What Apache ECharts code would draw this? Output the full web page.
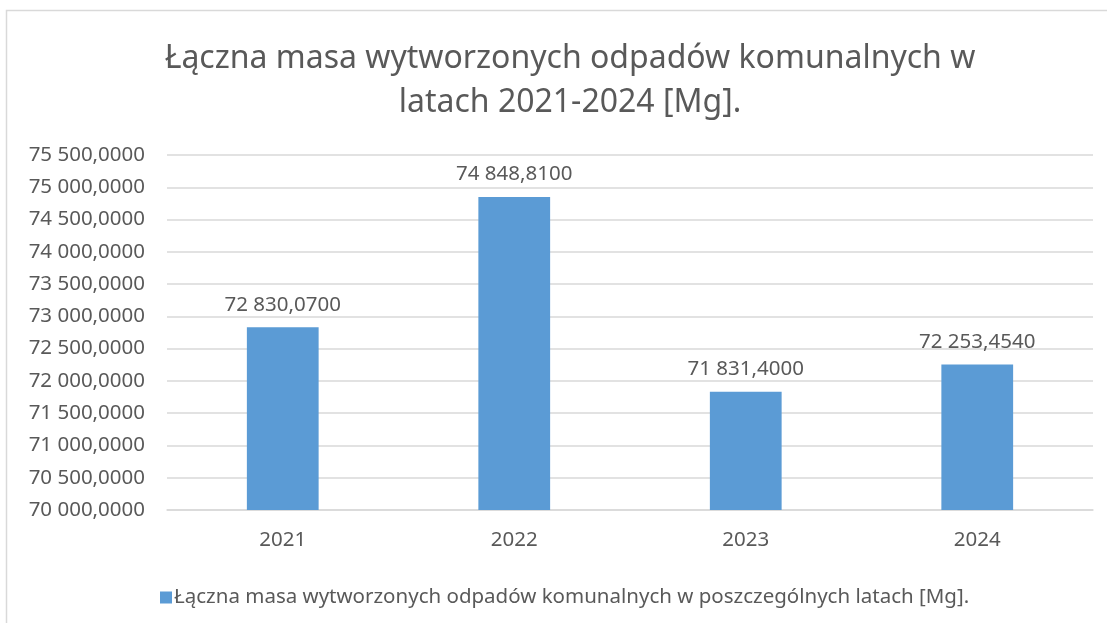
<!DOCTYPE html>
<html>
<head>
<meta charset="utf-8">
<script src="https://cdn.jsdelivr.net/npm/echarts@6/dist/echarts.min.js"></script>
<style>
  html, body { margin: 0; padding: 0; background: #fff; }
  #chart { width: 1107px; height: 623px; }
</style>
</head>
<body>
<div id="chart"></div>
<script>
var years = ["2021", "2022", "2023", "2024"];
var masses = [72830.07, 74848.81, 71831.4, 72253.454];
var seriesName = "Łączna masa wytworzonych odpadów komunalnych w poszczególnych latach [Mg].";
var titleText = "Łączna masa wytworzonych odpadów komunalnych w\nlatach 2021-2024 [Mg].";

var font = "Noto Sans";
var textColor = "#595959";

function fmt(v) {
  var parts = Number(v).toFixed(4).split(".");
  return parts[0].replace(/\B(?=(\d{3})+(?!\d))/g, " ") + "," + parts[1];
}

var chart = echarts.init(document.getElementById("chart"));
chart.setOption({
  animation: false,
  graphic: [{
    type: "rect",
    shape: { x: 6.5, y: 10.5, width: 1200, height: 700 },
    style: { fill: "none", stroke: "#d9d9d9", lineWidth: 1.5 },
    silent: true
  }],
  title: {
    text: titleText,
    left: 565,
    textAlign: "center",
    top: 32,
    textStyle: {
      fontFamily: font,
      fontSize: 32,
      fontWeight: "normal",
      color: textColor,
      lineHeight: 44
    }
  },
  legend: {
    top: 582,
    left: 155,
    itemWidth: 12,
    itemHeight: 12,
    itemGap: 4,
    icon: "rect",
    textStyle: { fontFamily: font, fontSize: 20.5, color: textColor, padding: [0, 0, 0, -3] }
  },
  grid: { left: 167, right: 14, top: 155, bottom: 113 },
  xAxis: {
    type: "category",
    data: years,
    axisTick: { show: false },
    axisLine: { lineStyle: { color: "#d9d9d9", width: 1.5 } },
    axisLabel: { fontFamily: font, fontSize: 20.5, color: textColor, margin: 20 }
  },
  yAxis: {
    type: "value",
    min: 70000,
    max: 75500,
    interval: 500,
    splitLine: { lineStyle: { color: "#d9d9d9", width: 1.5 } },
    axisLabel: {
      fontFamily: font,
      fontSize: 20.5,
      color: textColor,
      margin: 22,
      formatter: fmt
    }
  },
  series: [{
    name: seriesName,
    type: "bar",
    data: masses,
    barWidth: "31%",
    itemStyle: { color: "#5B9BD5" },
    label: {
      show: true,
      position: "top",
      distance: 12,
      fontFamily: font,
      fontSize: 20.5,
      color: textColor,
      formatter: function (p) { return fmt(p.value); }
    }
  }]
});
</script>
</body>
</html>
